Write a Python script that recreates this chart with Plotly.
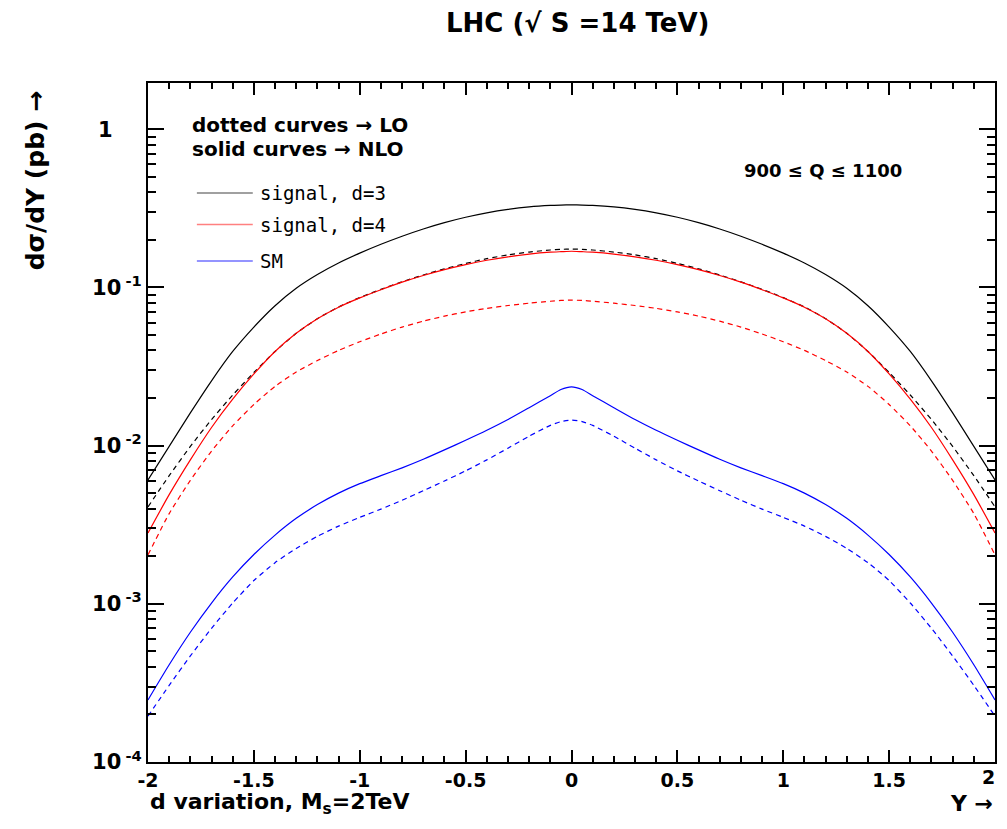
import plotly.graph_objects as go

# Rapidity Y
Y = [-2.0, -1.9, -1.8, -1.7, -1.6, -1.5, -1.4, -1.3, -1.2, -1.1, -1.0,
     -0.9, -0.8, -0.7, -0.6, -0.5, -0.4, -0.3, -0.2, -0.1, -0.05, 0.0, 0.05,
     0.1, 0.2, 0.3, 0.4, 0.5, 0.6, 0.7, 0.8, 0.9, 1.0,
     1.1, 1.2, 1.3, 1.4, 1.5, 1.6, 1.7, 1.8, 1.9, 2.0]

# d sigma / dY (pb)
d3_nlo = [6.07e-3, 9.89e-3, 1.61e-2, 2.57e-2, 3.94e-2, 5.62e-2, 7.67e-2, 9.89e-2, 0.1208, 0.1429, 0.1648,
          0.1875, 0.2109, 0.2344, 0.2570, 0.2780, 0.2965, 0.3119, 0.3236, 0.3304, 0.3319, 0.3327, 0.3319,
          0.3304, 0.3236, 0.3119, 0.2965, 0.2780, 0.2570, 0.2344, 0.2109, 0.1875, 0.1648,
          0.1429, 0.1208, 9.89e-2, 7.67e-2, 5.62e-2, 3.94e-2, 2.57e-2, 1.61e-2, 9.89e-3, 6.07e-3]
d3_lo = [4.10e-3, 6.46e-3, 9.89e-3, 1.462e-2, 2.09e-2, 2.90e-2, 3.94e-2, 5.13e-2, 6.35e-2, 7.53e-2, 8.63e-2,
         9.73e-2, 0.1086, 0.1199, 0.1312, 0.1419, 0.1521, 0.1607, 0.1675, 0.1726, 0.1742, 0.1750, 0.1742,
         0.1726, 0.1675, 0.1607, 0.1521, 0.1419, 0.1312, 0.1199, 0.1086, 9.73e-2, 8.63e-2,
         7.53e-2, 6.35e-2, 5.13e-2, 3.94e-2, 2.90e-2, 2.09e-2, 1.462e-2, 9.89e-3, 6.46e-3, 4.10e-3]
d4_nlo = [2.805e-3, 4.90e-3, 8.13e-3, 1.303e-2, 1.968e-2, 2.84e-2, 3.94e-2, 5.13e-2, 6.34e-2, 7.50e-2, 8.59e-2,
          9.68e-2, 0.1081, 0.1191, 0.1297, 0.1396, 0.1486, 0.1563, 0.1626, 0.1671, 0.1683, 0.1694, 0.1683,
          0.1671, 0.1626, 0.1563, 0.1486, 0.1396, 0.1297, 0.1191, 0.1081, 9.68e-2, 8.59e-2,
          7.50e-2, 6.34e-2, 5.13e-2, 3.94e-2, 2.84e-2, 1.968e-2, 1.303e-2, 8.13e-3, 4.90e-3, 2.805e-3]
d4_lo = [2.04e-3, 3.72e-3, 6.03e-3, 9.23e-3, 1.334e-2, 1.820e-2, 2.37e-2, 2.92e-2, 3.45e-2, 4.00e-2, 4.54e-2,
         5.08e-2, 5.62e-2, 6.12e-2, 6.59e-2, 7.01e-2, 7.38e-2, 7.69e-2, 7.96e-2, 8.18e-2, 8.28e-2, 8.32e-2, 8.28e-2,
         8.18e-2, 7.96e-2, 7.69e-2, 7.38e-2, 7.01e-2, 6.59e-2, 6.12e-2, 5.62e-2, 5.08e-2, 4.54e-2,
         4.00e-2, 3.45e-2, 2.92e-2, 2.37e-2, 1.820e-2, 1.334e-2, 9.23e-3, 6.03e-3, 3.72e-3, 2.04e-3]
sm_nlo = [2.47e-4, 4.12e-4, 6.61e-4, 1.012e-3, 1.479e-3, 2.05e-3, 2.72e-3, 3.47e-3, 4.24e-3, 5.01e-3, 5.75e-3,
          6.46e-3, 7.24e-3, 8.20e-3, 9.40e-3, 1.081e-2, 1.250e-2, 1.462e-2, 1.738e-2, 2.07e-2, 2.265e-2, 2.355e-2, 2.265e-2,
          2.07e-2, 1.738e-2, 1.462e-2, 1.250e-2, 1.081e-2, 9.40e-3, 8.20e-3, 7.24e-3, 6.46e-3, 5.75e-3,
          5.01e-3, 4.24e-3, 3.47e-3, 2.72e-3, 2.05e-3, 1.479e-3, 1.012e-3, 6.61e-4, 4.12e-4, 2.47e-4]
sm_lo = [1.95e-4, 3.05e-4, 4.68e-4, 7.00e-4, 1.012e-3, 1.403e-3, 1.82e-3, 2.24e-3, 2.67e-3, 3.10e-3, 3.52e-3,
         3.97e-3, 4.52e-3, 5.19e-3, 5.98e-3, 6.93e-3, 8.13e-3, 9.64e-3, 1.148e-2, 1.343e-2, 1.419e-2, 1.452e-2, 1.419e-2,
         1.343e-2, 1.148e-2, 9.64e-3, 8.13e-3, 6.93e-3, 5.98e-3, 5.19e-3, 4.52e-3, 3.97e-3, 3.52e-3,
         3.10e-3, 2.67e-3, 2.24e-3, 1.82e-3, 1.403e-3, 1.012e-3, 7.00e-4, 4.68e-4, 3.05e-4, 1.95e-4]

x_tickvals = [-2, -1.5, -1, -0.5, 0, 0.5, 1, 1.5, 2]
# the last label ("2") sits at the page edge, so it is drawn as an annotation kept inside the page
x_ticktext = ["-2", "-1.5", "-1", "-0.5", "0", "0.5", "1", "1.5", ""]
x_edge_label = "2"
y_tickvals = [1e-4, 1e-3, 1e-2, 1e-1, 1]
y_ticktext = ["10&#8201;<sup>-4</sup>", "10&#8201;<sup>-3</sup>", "10&#8201;<sup>-2</sup>",
              "10&#8201;<sup>-1</sup>", "1&nbsp;&nbsp;&nbsp;&nbsp;"]
y_minor = [m * 10.0 ** e for e in range(-4, 1) for m in range(2, 10)]

legend_labels = ["signal, d=3", "signal, d=4", "SM"]
legend_colors = ["#808080", "#ff8080", "#7070ff"]

series = [
    (d3_nlo, "black", "solid"),
    (d3_lo, "black", "5px,4px"),
    (d4_nlo, "#ff0000", "solid"),
    (d4_lo, "#ff0000", "5px,4px"),
    (sm_nlo, "#0000ff", "solid"),
    (sm_lo, "#0000ff", "5px,4px"),
]

fig = go.Figure()
for vals, col, dash in series:
    fig.add_trace(go.Scatter(x=Y, y=vals, mode="lines",
                             line=dict(color=col, width=1.2, dash=dash, shape="spline", smoothing=0.6),
                             showlegend=False, hoverinfo="skip"))

BOLD = dict(family="DejaVu Sans", color="black", weight="bold")
TICKSIZE = 19

# page has an 8px body margin: figure is placed at (8, 8)
fig.update_layout(
    width=991, height=809,
    margin=dict(l=140, r=2, t=75, b=55),
    paper_bgcolor="white", plot_bgcolor="white",
    showlegend=False,
    xaxis=dict(range=[-2, 2], tickmode="array", tickvals=x_tickvals, ticktext=x_ticktext,
               ticks="inside", ticklen=12, tickwidth=2, tickcolor="black",
               showline=True, linewidth=2, linecolor="black", mirror="allticks",
               showgrid=False, zeroline=False,
               tickfont=dict(size=TICKSIZE, **BOLD),
               minor=dict(dtick=0.1, ticks="inside", ticklen=6, tickwidth=2, tickcolor="black", showgrid=False)),
    yaxis=dict(type="log", range=[-4, 0.2927], tickmode="array", tickvals=y_tickvals, ticktext=y_ticktext,
               ticks="inside", ticklen=16, tickwidth=2, tickcolor="black",
               showline=True, linewidth=2, linecolor="black", mirror="allticks",
               showgrid=False, zeroline=False,
               tickfont=dict(size=21, **BOLD),
               minor=dict(tickmode="array", tickvals=y_minor, ticks="inside", ticklen=8, tickwidth=2,
                          tickcolor="black", showgrid=False)),
)

ann = [
    dict(text="LHC (\u221a S =14 TeV)", x=0.5065, y=1.088, xanchor="center", yanchor="middle",
         font=dict(size=26, **BOLD)),
    dict(text="d\u03c3/dY (pb) \u2192", x=-0.1331, y=0.857, xanchor="center", yanchor="middle",
         textangle=-90, font=dict(size=25, **BOLD)),
    dict(text="d variation, M<sub>s</sub>=2TeV", x=0.0, y=-0.0605, xanchor="left", yanchor="middle",
         font=dict(size=22, **BOLD)),
    dict(text="Y \u2192", x=1.0, y=-0.0605, xanchor="right", yanchor="middle",
         font=dict(size=22, **BOLD)),
    dict(text="dotted curves \u2192 LO", x=0.0495, y=0.938, xanchor="left", yanchor="middle",
         font=dict(size=20, **BOLD)),
    dict(text="solid curves \u2192 NLO", x=0.0495, y=0.903, xanchor="left", yanchor="middle",
         font=dict(size=20, **BOLD)),
    dict(text="900 \u2264 Q \u2264 1100", x=0.7008, y=0.8704, xanchor="left", yanchor="middle",
         font=dict(size=18, **BOLD)),
    dict(text=x_edge_label, x=1.0022, y=-0.0221, xanchor="right", yanchor="middle",
         font=dict(size=TICKSIZE, **BOLD)),
]
leg_y = [0.838, 0.7916, 0.7378]
shapes = []
for lab, col, yy in zip(legend_labels, legend_colors, leg_y):
    shapes.append(dict(type="line", xref="paper", yref="paper", x0=0.0577, x1=0.1237, y0=yy, y1=yy,
                       line=dict(color=col, width=1.5)))
    ann.append(dict(text=lab, x=0.1296, y=yy, xanchor="left", yanchor="middle",
                    font=dict(family="DejaVu Sans Mono", size=19, color="black")))
for a in ann:
    a.update(xref="paper", yref="paper", showarrow=False)
fig.update_layout(annotations=ann, shapes=shapes)

fig.write_html("out.html", config={"displayModeBar": False})
